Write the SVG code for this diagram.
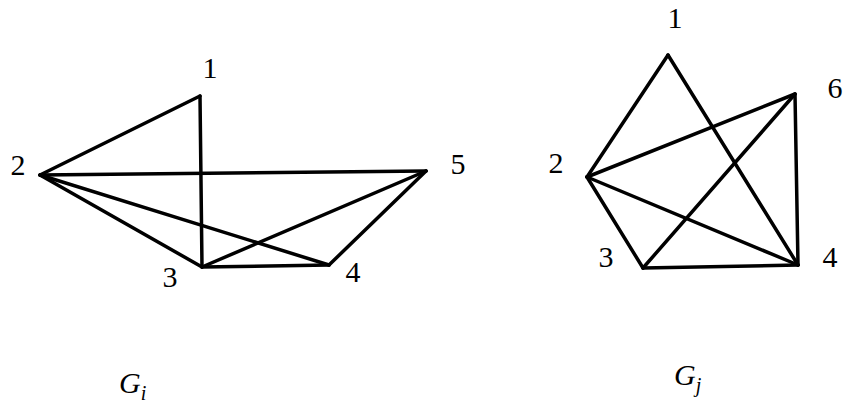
<svg xmlns="http://www.w3.org/2000/svg" width="845" height="404" viewBox="0 0 845 404">
<style>
.e{stroke:#000;stroke-width:3.5;stroke-linecap:round;stroke-linejoin:round;fill:none}
.t{font-family:"Liberation Serif","Times New Roman",serif;font-size:30px;fill:#000;text-anchor:middle}
.g{font-family:"Liberation Serif","Times New Roman",serif;font-style:italic;font-size:30px;fill:#000}
.s{font-size:20px}
</style>
<rect width="845" height="404" fill="#fff"/>
<g id="connectors">
<line class="e" x1="200" y1="96" x2="40" y2="175"/>
<line class="e" x1="200" y1="96" x2="202" y2="267"/>
<line class="e" x1="40" y1="175" x2="426" y2="171"/>
<line class="e" x1="40" y1="175" x2="202" y2="267"/>
<line class="e" x1="40" y1="175" x2="329" y2="265"/>
<line class="e" x1="202" y1="267" x2="426" y2="171"/>
<line class="e" x1="202" y1="267" x2="329" y2="265"/>
<line class="e" x1="329" y1="265" x2="426" y2="171"/>
<line class="e" x1="668" y1="55" x2="587" y2="177"/>
<line class="e" x1="668" y1="55" x2="798" y2="265"/>
<line class="e" x1="587" y1="177" x2="795" y2="94"/>
<line class="e" x1="587" y1="177" x2="798" y2="265"/>
<line class="e" x1="587" y1="177" x2="643" y2="268"/>
<line class="e" x1="643" y1="268" x2="795" y2="94"/>
<line class="e" x1="643" y1="268" x2="798" y2="265"/>
<line class="e" x1="795" y1="94" x2="798" y2="265"/>
</g>
<g id="gi-node1"><text class="t" x="210" y="78">1</text></g>
<g id="gi-node2"><text class="t" x="18" y="175">2</text></g>
<g id="gi-node3"><text class="t" x="170" y="287">3</text></g>
<g id="gi-node4"><text class="t" x="353" y="282">4</text></g>
<g id="gi-node5"><text class="t" x="458" y="174">5</text></g>
<g id="gj-node1"><text class="t" x="675" y="28">1</text></g>
<g id="gj-node2"><text class="t" x="556" y="173">2</text></g>
<g id="gj-node3"><text class="t" x="606" y="267">3</text></g>
<g id="gj-node4"><text class="t" x="830" y="267">4</text></g>
<g id="gj-node6"><text class="t" x="835" y="98">6</text></g>
<g id="label-gi"><text class="g" x="119" y="393">G<tspan class="s" dy="7">i</tspan></text></g>
<g id="label-gj"><text class="g" x="674" y="385">G<tspan class="s" dy="7">j</tspan></text></g>
</svg>
